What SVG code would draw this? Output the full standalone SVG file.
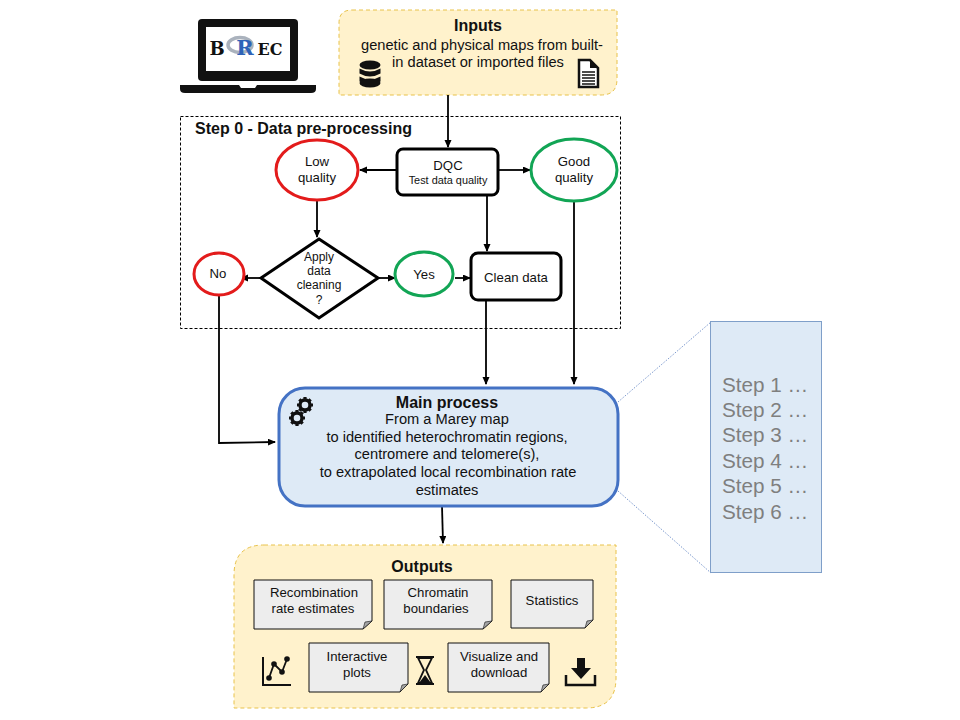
<svg xmlns="http://www.w3.org/2000/svg" width="960" height="720" viewBox="0 0 960 720">
<style>
text{font-family:"Liberation Sans",Arial,sans-serif;fill:#111;text-anchor:middle}
.t12{font-size:13.2px}.t14{font-size:14.67px}.b{font-weight:bold;font-size:16px}
.panel{fill:#fff2cc;stroke:#e8c24a;stroke-width:1;stroke-dasharray:4 3}
.note{fill:#ededed;stroke:#111;stroke-width:1}
.fold{fill:#a5a5a5;stroke:#111;stroke-width:.6}
.red{fill:#fff;stroke:#e31b1b;stroke-width:3}
.grn{fill:#fff;stroke:#12a555;stroke-width:3}
.box{fill:#fff;stroke:#000;stroke-width:3}
.c{fill:none;stroke:#000;stroke-width:1.8;marker-end:url(#a)}
.icon{fill:#111}
.logo{font-family:"DejaVu Serif",serif;font-weight:bold}
.s{font-size:20.7px;fill:#7f7f7f}
.a{font-size:12px}
</style>
<defs>
<marker id="a" markerWidth="10" markerHeight="8" refX="7" refY="3.5" orient="auto" markerUnits="userSpaceOnUse"><path d="M0 0L8 3.5L0 7z" fill="#000"/></marker>
<g id="gear"><circle r="5" fill="none" stroke="#111" stroke-width="3.4"/><path d="M-1.6-8h3.2v3h-3.2zM-1.6 5h3.2v3h-3.2zM-8-1.6h3v3.2h-3zM5-1.6h3v3.2h-3z" fill="#111"/><path d="M-1.6-8h3.2v3h-3.2zM-1.6 5h3.2v3h-3.2zM-8-1.6h3v3.2h-3zM5-1.6h3v3.2h-3z" fill="#111" transform="rotate(45)"/></g>
</defs>

<g id="laptop">
<rect x="198" y="19" width="100" height="62" rx="4" fill="#111"/>
<rect x="206" y="27" width="84" height="44" fill="#fff"/>
<path d="M180 85h136v4q0 4-5 4H185q-5 0-5-4z" fill="#111"/>
<path d="M239 85h18l-2 3h-14z" fill="#fff"/>
<ellipse cx="240" cy="45" rx="12" ry="7.500" fill="none" stroke="#aab2bd" stroke-width="3.500"/>
<text class="logo" x="217" y="55" font-size="18">B</text>
<text class="logo" x="245" y="55" font-size="21" style="fill:#2e63b8">R</text>
<text class="logo" x="270" y="55" font-size="16">EC</text>
</g>

<g id="inputs">
<path class="panel" d="M352 10H617V79Q617 95 601 95H339V23Q339 10 352 10Z"/>
<text class="b" x="478" y="31">Inputs</text>
<text class="t14" x="482" y="50">genetic and physical maps from built-</text>
<text class="t14" x="478" y="67">in dataset or imported files</text>
<g class="icon">
<ellipse cx="370" cy="65" rx="10.500" ry="4.500"/>
<path d="M359.500 68.500q10.500 6 21 0v5q-10.500 6-21 0zM359.500 76.500q10.500 6 21 0v5q-10.500 6-21 0z"/>
<ellipse cx="370" cy="83" rx="10.500" ry="4.500"/>
</g>
<path d="M579 60h11l8 8v19h-19z" fill="#fff" stroke="#111" stroke-width="2.500"/>
<path d="M590 60v8h8z" fill="#111"/>
<path d="M582 72h13M582 75h13M582 78h13M582 81h13M582 84h13" stroke="#111" stroke-width="1.500"/>
</g>

<g id="step0">
<rect x="180.500" y="116.500" width="440" height="212" fill="none" stroke="#000" stroke-width="1" stroke-dasharray="3 2"/>
<text x="303.500" y="134" style="font-weight:bold;font-size:16px">Step 0 - Data pre-processing</text>
</g>

<g id="connectors">
<path class="c" d="M448 95V147"/>
<path class="c" d="M397 170H360"/>
<path class="c" d="M498 170H530"/>
<path class="c" d="M317 200V237"/>
<path class="c" d="M487 195V251"/>
<path class="c" d="M261 278H241"/>
<path class="c" d="M379 278H395"/>
<path class="c" d="M455 278H470"/>
<path class="c" d="M486 301V384"/>
<path class="c" d="M574 201V384"/>
<path class="c" d="M219 295V443L275 442"/>
<path class="c" d="M442 506L443 543"/>
</g>

<g id="dqc"><rect class="box" x="397" y="149" width="101" height="46" rx="6"/>
<text class="t12" x="448" y="170">DQC</text><text x="448" y="184" style="font-size:10.900px">Test data quality</text></g>
<g id="low"><ellipse class="red" cx="317" cy="170" rx="41" ry="30"/>
<text class="t12" x="317" y="166">Low</text><text class="t12" x="317" y="182">quality</text></g>
<g id="good"><ellipse class="grn" cx="574" cy="170" rx="43" ry="31"/>
<text class="t12" x="574" y="166">Good</text><text class="t12" x="574" y="182">quality</text></g>
<g id="apply"><path d="M319 239L378 278L319 318L261 278Z" fill="#fff" stroke="#000" stroke-width="3"/>
<text class="a" x="319" y="261">Apply</text>
<text class="a" x="319" y="275">data</text>
<text class="a" x="319" y="289">cleaning</text>
<text class="a" x="319" y="304">?</text></g>
<g id="no"><ellipse class="red" cx="219" cy="274" rx="25" ry="21"/><text class="t12" x="218" y="278">No</text></g>
<g id="yes"><ellipse class="grn" cx="424" cy="274" rx="29" ry="22"/><text class="t12" x="424" y="279">Yes</text></g>
<g id="clean"><rect class="box" x="471" y="253" width="90" height="47" rx="7"/><text class="t12" x="516" y="282">Clean data</text></g>

<g id="main">
<rect x="279" y="388" width="339" height="118" rx="26" fill="#deeaf6" stroke="#4472c4" stroke-width="3"/>
<text class="b" x="447" y="408">Main process</text>
<text class="t14" x="447" y="424">From a Marey map</text>
<text class="t14" x="447" y="442">to identified heterochromatin regions,</text>
<text class="t14" x="447" y="459">centromere and telomere(s),</text>
<text class="t14" x="448" y="477">to extrapolated local recombination rate</text>
<text class="t14" x="447" y="495">estimates</text>
<use href="#gear" x="305" y="405"/><use href="#gear" x="297" y="418"/>
</g>

<g id="zoom-lines" stroke="#5b7fc0" stroke-width=".8" stroke-dasharray="1.500 1.500" fill="none">
<path d="M618 402L711 322M618 491L711 573"/>
</g>
<g id="steps">
<rect x="710.500" y="321.500" width="111" height="251" fill="#deeaf6" stroke="#7f9fc9" stroke-width="1"/>
<text class="s" x="765" y="392">Step 1 …</text>
<text class="s" x="765" y="417">Step 2 …</text>
<text class="s" x="765" y="442">Step 3 …</text>
<text class="s" x="765" y="468">Step 4 …</text>
<text class="s" x="765" y="493">Step 5 …</text>
<text class="s" x="765" y="519">Step 6 …</text>
</g>

<g id="outputs">
<path class="panel" d="M264 545H616V678Q616 708 586 708H234V575Q234 545 264 545Z"/>
<text class="b" x="422" y="572">Outputs</text>
</g>
<g id="n-rec"><path class="note" d="M254 580H372V621L363 629H254Z"/><path class="fold" d="M372 621L363 629L365 622Z"/>
<text class="t12" x="314" y="597">Recombination</text><text class="t12" x="313" y="613">rate estimates</text></g>
<g id="n-chr"><path class="note" d="M384 580H492V621L483 629H384Z"/><path class="fold" d="M492 621L483 629L485 622Z"/>
<text class="t12" x="438" y="597">Chromatin</text><text class="t12" x="436" y="613">boundaries</text></g>
<g id="n-sta"><path class="note" d="M511 580H593V620L585 628H511Z"/><path class="fold" d="M593 620L585 628L587 621Z"/>
<text class="t12" x="552" y="605">Statistics</text></g>
<g id="n-int"><path class="note" d="M309 643H408V684L400 692H309Z"/><path class="fold" d="M408 684L400 692L402 685Z"/>
<text class="t12" x="357" y="661">Interactive</text><text class="t12" x="357" y="677">plots</text></g>
<g id="n-vis"><path class="note" d="M448 643H549V684L541 692H448Z"/><path class="fold" d="M549 684L541 692L543 685Z"/>
<text class="t12" x="499" y="661">Visualize and</text><text class="t12" x="499" y="677">download</text></g>

<g id="icons">
<path d="M263 657V685H291" fill="none" stroke="#111" stroke-width="2"/>
<path d="M269 678L274 664L282 672L287 659" fill="none" stroke="#111" stroke-width="1.800"/>
<circle cx="269" cy="678" r="2.800" class="icon"/><circle cx="274" cy="664" r="2.800" class="icon"/><circle cx="282" cy="672" r="2.800" class="icon"/><circle cx="287" cy="659" r="2.800" class="icon"/>
<path d="M416 657H434M416 684H434" stroke="#111" stroke-width="2"/>
<path d="M418 658H432L426 670L432 683H418L424 670Z" fill="none" stroke="#111" stroke-width="1.800"/>
<path d="M419 683L425 675L431 683Z" class="icon"/>
<path d="M577 658H585V668H591L581 679L571 668H577Z" class="icon"/>
<path d="M566 675V685H595V675" fill="none" stroke="#111" stroke-width="2.500"/>
</g>
</svg>
